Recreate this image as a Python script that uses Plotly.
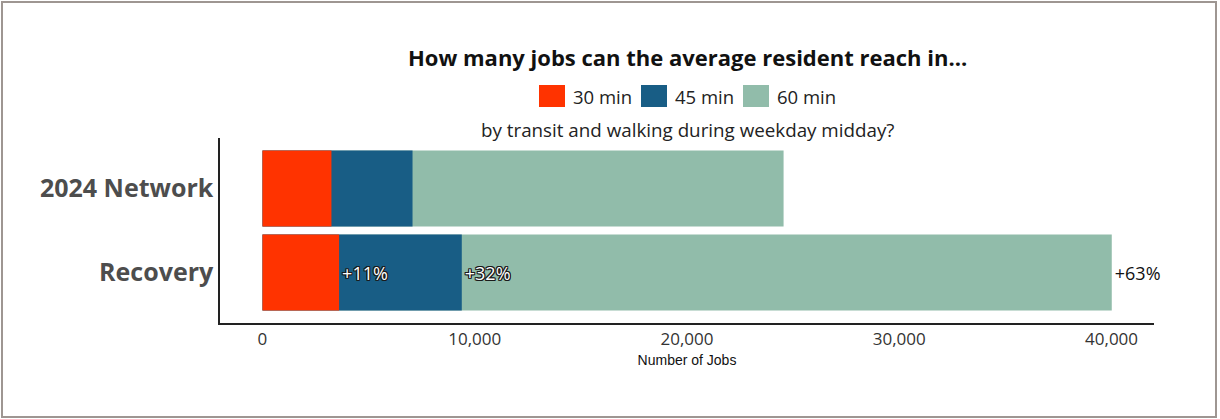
import plotly.graph_objects as go

# jobs reachable (cumulative by travel time)
categories = ["2024 Network", "Recovery"]
jobs_30 = [3250, 3610]
jobs_45 = [7070, 9390]
jobs_60 = [24550, 40010]
labels_30 = ["", "+11%"]
labels_45 = ["", "+32%"]
labels_60 = ["", "+63%"]

series_names = ["30 min", "45 min", "60 min"]
colors = ["#ff3300", "#185d85", "#91bcaa"]

W, H = 1220, 419
L, R, T, B = 220, 1154, 138, 323
FONT = "Open Sans, Noto Sans, sans-serif"


def px_x(px):
    return (px - L) / (R - L)


def px_y(py):
    return (B - py) / (B - T)


outline = ("1px 1px 0 #1a1a1a, -1px -1px 0 #1a1a1a, 1px -1px 0 #1a1a1a, -1px 1px 0 #1a1a1a, "
           "0 1px 0 #1a1a1a, 0 -1px 0 #1a1a1a, 1px 0 0 #1a1a1a, -1px 0 0 #1a1a1a")

fig = go.Figure()
for vals, txt, name, col, tf in [
    (jobs_60, labels_60, series_names[2], colors[2], dict(color="#111111")),
    (jobs_45, labels_45, series_names[1], colors[1], dict(color="white", shadow=outline)),
    (jobs_30, labels_30, series_names[0], colors[0], dict(color="white", shadow=outline)),
]:
    tf.update(family=FONT, size=18)
    fig.add_trace(go.Bar(x=vals, y=categories, orientation="h", name=name,
                         marker=dict(color=col, line=dict(width=0)),
                         text=txt, textposition="outside", textfont=tf,
                         cliponaxis=False, showlegend=False))

# custom legend with large square swatches
shapes = []
annotations = []
sw_x = [539, 641, 743]
for i, name in enumerate(series_names):
    shapes.append(dict(type="rect", xref="paper", yref="paper",
                       x0=px_x(sw_x[i]), x1=px_x(sw_x[i] + 26),
                       y0=px_y(107), y1=px_y(85),
                       fillcolor=colors[i], line=dict(width=0)))
    annotations.append(dict(xref="paper", yref="paper", x=px_x(sw_x[i] + 32), y=px_y(96),
                            xanchor="left", yanchor="middle", showarrow=False,
                            text=name, font=dict(family=FONT, size=18.5, color="#222222")))

annotations.append(dict(xref="paper", yref="paper", x=px_x(687), y=px_y(57),
                        xanchor="center", yanchor="middle", showarrow=False,
                        text="<b>How many jobs can the average resident reach in...</b>",
                        font=dict(family=FONT, size=22, color="#111111")))
annotations.append(dict(xref="paper", yref="paper", x=px_x(687), y=px_y(130),
                        xanchor="center", yanchor="middle", showarrow=False,
                        text="by transit and walking during weekday midday?",
                        font=dict(family=FONT, size=18.8, color="#222222")))

# outer border
shapes.append(dict(type="rect", xref="paper", yref="paper",
                   x0=px_x(2), x1=px_x(1216), y0=px_y(417), y1=px_y(2),
                   line=dict(color="#9e9692", width=2), fillcolor="rgba(0,0,0,0)"))

fig.update_layout(
    width=W, height=H,
    margin=dict(l=L, r=W - R, t=T, b=H - B, pad=0),
    barmode="overlay", bargap=0.095,
    plot_bgcolor="white", paper_bgcolor="white",
    shapes=shapes, annotations=annotations,
    xaxis=dict(range=[-2000, 42000], tickvals=[0, 10000, 20000, 30000, 40000],
               tickformat=",d", showgrid=False, zeroline=False,
               showline=True, linecolor="#222222", linewidth=1.5,
               tickfont=dict(family=FONT, size=17, color="#333333"),
               title=dict(text="Number of Jobs", standoff=6,
                          font=dict(family="Liberation Sans, Arial", size=14, color="#111111"))),
    yaxis=dict(range=[1.6, -0.6], showgrid=False, zeroline=False,
               showline=True, linecolor="#222222", linewidth=1.5,
               ticklabelstandoff=0,
               tickfont=dict(family=FONT, size=25, color="#4d4d4d", weight="bold")),
)

fig.write_html("out.html", config={"displayModeBar": False},
               post_script="document.body.style.margin='0';document.body.style.overflow='hidden';")
